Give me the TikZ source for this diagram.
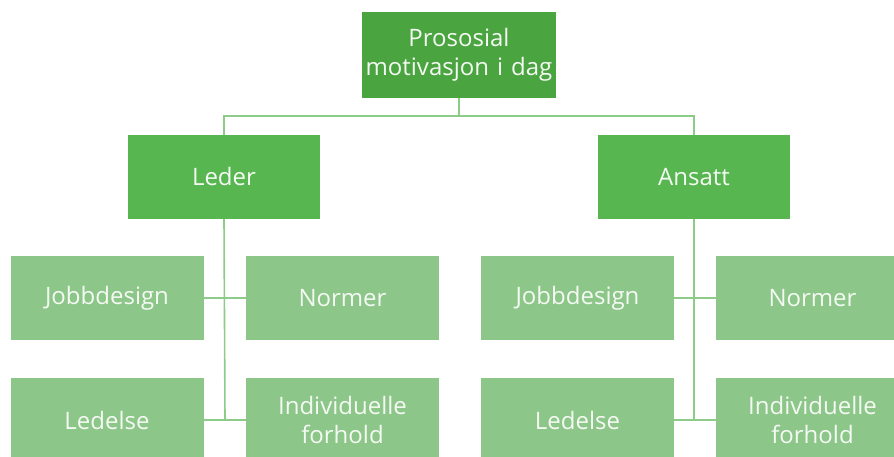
\documentclass[tikz,border=0pt]{standalone}
\usepackage{fontspec}
\setmainfont{Open Sans}
\definecolor{topgreen}{HTML}{4AA440}
\definecolor{midgreen}{HTML}{57B650}
\definecolor{lowgreen}{HTML}{8DC689}
\definecolor{linegreen}{HTML}{8CCB88}
\definecolor{txt}{HTML}{F4FAF3}
\tikzset{
  box/.style={rectangle, inner sep=0pt, minimum width=194pt, minimum height=84pt,
    text=txt, align=center, font=\fontsize{24}{29}\selectfont, text width=190pt},
  topbox/.style={box, fill=topgreen, minimum height=86pt},
  midbox/.style={box, fill=midgreen, minimum width=192pt},
  lowbox/.style={box, fill=lowgreen, minimum width=193pt},
  conn/.style={draw=linegreen, line width=1.6pt}
}
\begin{document}
\begin{tikzpicture}[x=1pt,y=-1pt]
\useasboundingbox (0,0) rectangle (894,457);
\clip (0,0) rectangle (894,457);
\fill[white] (0,0) rectangle (894,457);
\node[topbox] (p) at (459,55) {Prososial\\motivasjon i dag};
\node[midbox] (leder) at (224,177) {Leder};
\node[midbox] (ansatt) at (694,177) {Ansatt};
\node[lowbox] (jd1) at (107,298) {Jobbdesign};
\node[lowbox] (no1) at (342.5,298) {Normer};
\node[lowbox] (le1) at (107,420) {Ledelse};
\node[lowbox] (in1) at (342.5,420) {Individuelle\\forhold};
\node[lowbox] (jd2) at (577.5,298) {Jobbdesign};
\node[lowbox] (no2) at (812.5,298) {Normer};
\node[lowbox] (le2) at (577.5,420) {Ledelse};
\node[lowbox] (in2) at (812.5,420) {Individuelle\\forhold};
\coordinate (j) at (459,116);
\draw[conn] (p.south) -- (j);
\draw[conn] (leder.north) -- ++(0,-19) -| (ansatt.north);
\coordinate (e1) at (225,420);
\coordinate (e2) at (694,420);
\draw[conn] (leder.south) -- (e1);
\draw[conn] (ansatt.south) -- (e2);
\draw[conn] (jd1.east) -- (no1.west);
\draw[conn] (le1.east) -- (in1.west);
\draw[conn] (jd2.east) -- (no2.west);
\draw[conn] (le2.east) -- (in2.west);
\end{tikzpicture}
\end{document}
